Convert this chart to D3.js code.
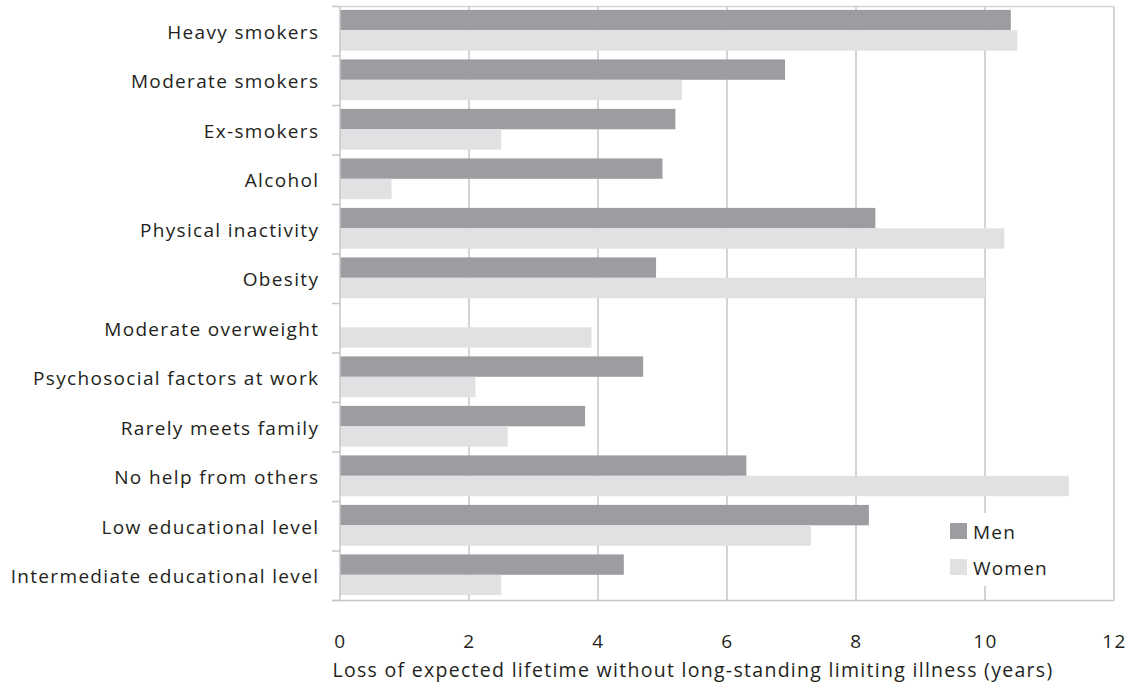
<!DOCTYPE html>
<html>
<head>
<meta charset="utf-8">
<script src="https://cdn.jsdelivr.net/npm/d3@7"></script>
<style>
  html, body { margin: 0; padding: 0; background: #fff; }
  svg { display: block; }
  text { font-family: "Open Sans", "Noto Sans", sans-serif; fill: #231f20; }
</style>
</head>
<body>
<svg id="chart" width="1139" height="688"></svg>
<script>
const categories = [
  "Heavy smokers", "Moderate smokers", "Ex-smokers", "Alcohol",
  "Physical inactivity", "Obesity", "Moderate overweight",
  "Psychosocial factors at work", "Rarely meets family",
  "No help from others", "Low educational level", "Intermediate educational level"
];
const seriesNames = ["Men", "Women"];
const menValues   = [10.4, 6.9, 5.2, 5.0, 8.3, 4.9, 0, 4.7, 3.8, 6.3, 8.2, 4.4];
const womenValues = [10.5, 5.3, 2.5, 0.8, 10.3, 10.0, 3.9, 2.1, 2.6, 11.3, 7.3, 2.5];
const xTicks = [0, 2, 4, 6, 8, 10, 12];
const xTitle = "Loss of expected lifetime without long-standing limiting illness (years)";
const colors = { Men: "#9c9da1", Women: "#e0e1e3" };

const svg = d3.select("#chart");
const pLeft = 340, pRight = 1114, pTop = 6.5, pBottom = 600.5;

const x = d3.scaleLinear().domain([0, 12]).range([pLeft, pRight]);
const y = d3.scaleBand().domain(categories).range([pTop, pBottom]).padding(0);
const ySub = d3.scaleBand().domain(seriesNames).range([3.4, 3.4 + 40.8]).padding(0);

const data = categories.map((c, i) => ({ cat: c, Men: menValues[i], Women: womenValues[i] }));

const gridColor = "#c6c6ca";

// border (top, right)
svg.append("line").attr("x1", pLeft).attr("x2", pRight).attr("y1", pTop).attr("y2", pTop)
  .attr("stroke", "#d3d3d6").attr("stroke-width", 1.5);
svg.append("line").attr("x1", pRight).attr("x2", pRight).attr("y1", pTop).attr("y2", pBottom)
  .attr("stroke", gridColor).attr("stroke-width", 1.5);

// vertical gridlines
svg.append("g").selectAll("line").data(xTicks.filter(t => t > 0 && t < 12)).join("line")
  .attr("x1", d => x(d)).attr("x2", d => x(d))
  .attr("y1", pTop).attr("y2", pBottom)
  .attr("stroke", gridColor).attr("stroke-width", 1.5);

// bars
const groups = svg.append("g").selectAll("g").data(data).join("g")
  .attr("transform", d => `translate(0,${y(d.cat)})`);
groups.selectAll("rect").data(d => seriesNames.map(s => ({ s, v: d[s] }))).join("rect")
  .attr("x", x(0))
  .attr("y", d => ySub(d.s))
  .attr("width", d => Math.max(0, x(d.v) - x(0)))
  .attr("height", ySub.bandwidth())
  .attr("fill", d => colors[d.s]);

// left axis
const yAxisG = svg.append("g");
yAxisG.append("line").attr("x1", pLeft).attr("x2", pLeft).attr("y1", pTop).attr("y2", pBottom)
  .attr("stroke", gridColor).attr("stroke-width", 1.5);
const boundaries = categories.map(c => y(c)).concat([pBottom]);
yAxisG.selectAll("line.tick").data(boundaries).join("line").attr("class", "tick")
  .attr("x1", pLeft - 8).attr("x2", pLeft).attr("y1", d => d).attr("y2", d => d)
  .attr("stroke", gridColor).attr("stroke-width", 1.5);
yAxisG.selectAll("text").data(categories).join("text")
  .attr("x", 319.3).attr("y", d => y(d) + y.bandwidth() / 2 + 0.5)
  .attr("text-anchor", "end").attr("dominant-baseline", "central")
  .attr("font-size", 19).attr("letter-spacing", 1.33)
  .text(d => d);

// bottom axis
svg.append("line").attr("x1", pLeft - 8).attr("x2", pRight).attr("y1", pBottom).attr("y2", pBottom)
  .attr("stroke", gridColor).attr("stroke-width", 1.5);
const xAxis = d3.axisBottom(x).tickValues(xTicks).tickSize(0).tickPadding(0).tickFormat(d3.format("d"));
const xAxisG = svg.append("g").attr("transform", `translate(0,${pBottom})`).call(xAxis);
xAxisG.select(".domain").remove();
xAxisG.selectAll("text").attr("font-size", 19).attr("y", 47).attr("dy", null)
  .attr("letter-spacing", 1.5)
  .style("font-family", "'Open Sans', 'Noto Sans', sans-serif").style("fill", "#231f20");

svg.append("text").attr("x", 693).attr("y", 677).attr("text-anchor", "middle")
  .attr("font-size", 19.5).attr("letter-spacing", 1.29).text(xTitle);

// legend
const lg = svg.append("g");
lg.append("rect").attr("x", 942).attr("y", 513).attr("width", 120).attr("height", 73).attr("fill", "#fff");
const items = lg.selectAll("g").data(seriesNames).join("g")
  .attr("transform", (d, i) => `translate(950,${523 + i * 36})`);
items.append("rect").attr("width", 17).attr("height", 16).attr("fill", d => colors[d]);
items.append("text").attr("x", 23).attr("y", 8.5).attr("dominant-baseline", "central")
  .attr("font-size", 19).attr("letter-spacing", 1.2).text(d => d);
</script>
</body>
</html>
